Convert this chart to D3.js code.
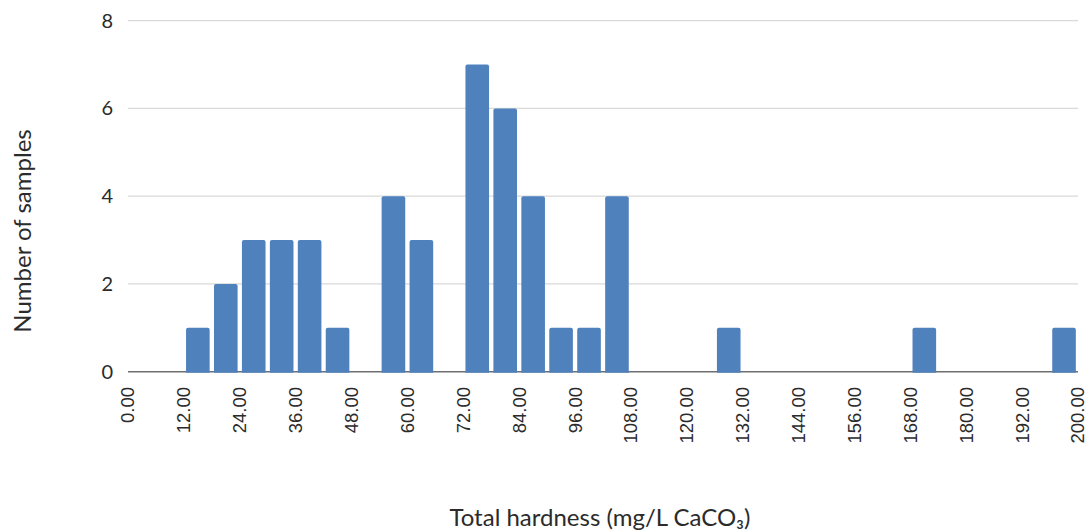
<!DOCTYPE html>
<html>
<head>
<meta charset="utf-8">
<script src="https://cdn.jsdelivr.net/npm/d3@7"></script>
<style>
  html, body { margin: 0; padding: 0; background: #fff; }
  svg { display: block; }
</style>
</head>
<body>
<svg id="chart" width="1092" height="532"></svg>
<script>
// Histogram of total hardness: each bin is 6 mg/L wide, labelled at every second edge.
const binStarts = [0, 6, 12, 18, 24, 30, 36, 42, 48, 54, 60, 66, 72, 78, 84, 90, 96,
                   102, 108, 114, 120, 126, 132, 138, 144, 150, 156, 162, 168, 174,
                   180, 186, 192, 198];
const sampleCounts = [0, 0, 1, 2, 3, 3, 3, 1, 0, 4, 3, 0, 7, 6, 4, 1, 1,
                      4, 0, 0, 0, 1, 0, 0, 0, 0, 0, 0, 1, 0,
                      0, 0, 0, 1];
const xTickLabels = ["0.00", "12.00", "24.00", "36.00", "48.00", "60.00", "72.00",
                     "84.00", "96.00", "108.00", "120.00", "132.00", "144.00",
                     "156.00", "168.00", "180.00", "192.00", "200.00"];
const yTicks = [0, 2, 4, 6, 8];

const svg = d3.select("#chart");
const plotLeft = 128, plotRight = 1078, plotTop = 20.7, plotBottom = 371.7;

const x = d3.scaleBand()
  .domain(binStarts)
  .range([plotLeft, plotRight])
  .paddingInner(0.155)
  .paddingOuter(0.0775);

const y = d3.scaleLinear().domain([0, 8]).range([plotBottom, plotTop]);

// horizontal gridlines
svg.append("g")
  .selectAll("line")
  .data(yTicks.filter(d => d > 0))
  .join("line")
  .attr("x1", plotLeft).attr("x2", plotRight)
  .attr("y1", d => y(d)).attr("y2", d => y(d))
  .attr("stroke", "#d9d9d9")
  .attr("stroke-width", 1.3);

// y tick labels
svg.append("g")
  .selectAll("text")
  .data(yTicks)
  .join("text")
  .attr("x", 113)
  .attr("y", d => y(d))
  .attr("dy", "0.35em")
  .attr("text-anchor", "end")
  .attr("font-family", "Lato, 'Open Sans', sans-serif")
  .attr("font-size", 20)
  .attr("fill", "#2b2b2b")
  .text(d => d);

// baseline axis
svg.append("line")
  .attr("x1", plotLeft).attr("x2", plotRight)
  .attr("y1", y(0)).attr("y2", y(0))
  .attr("stroke", "#6e6e6e")
  .attr("stroke-width", 1.6);

// bars with softly rounded tops
const r = 2;
svg.append("g")
  .selectAll("path")
  .data(binStarts.map((b, i) => ({ b, v: sampleCounts[i] })).filter(d => d.v > 0))
  .join("path")
  .attr("fill", "#4f81bd")
  .attr("d", d => {
    const x0 = x(d.b), w = x.bandwidth(), y0 = y(d.v), yb = y(0) + 1;
    return `M${x0},${yb} V${y0 + r} Q${x0},${y0} ${x0 + r},${y0} H${x0 + w - r} Q${x0 + w},${y0} ${x0 + w},${y0 + r} V${yb} Z`;
  });

// x tick labels sit on every second bin edge
const step = x.step();
const edgeStart = x.range()[0];
svg.append("g")
  .selectAll("text")
  .data(xTickLabels)
  .join("text")
  .attr("transform", (d, i) => `translate(${edgeStart + i * 2 * step},387) rotate(-90)`)
  .attr("dy", "0.35em")
  .attr("text-anchor", "end")
  .attr("font-family", "'Liberation Sans', Arial, sans-serif")
  .attr("font-size", 18.5)
  .attr("fill", "#2b2b2b")
  .text(d => d);

// axis titles
svg.append("text")
  .attr("transform", "translate(23,231) rotate(-90)")
  .attr("dy", "0.35em")
  .attr("text-anchor", "middle")
  .attr("font-family", "Lato, 'Open Sans', sans-serif")
  .attr("font-size", 24)
  .attr("fill", "#2b2b2b")
  .text("Number of samples");

svg.append("text")
  .attr("x", 600)
  .attr("y", 526)
  .attr("text-anchor", "middle")
  .attr("font-family", "Lato, 'Open Sans', sans-serif")
  .attr("font-size", 24)
  .attr("fill", "#2b2b2b")
  .text("Total hardness (mg/L CaCO₃)");
</script>
</body>
</html>
